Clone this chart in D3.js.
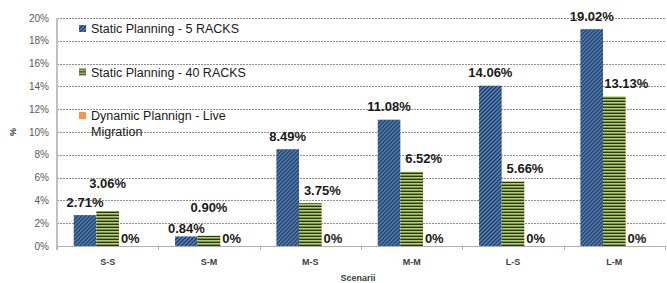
<!DOCTYPE html>
<html>
<head>
<meta charset="utf-8">
<script src="https://cdn.jsdelivr.net/npm/d3@7"></script>
<style>
  body { margin: 0; background: #fff; }
  svg { display: block; font-family: "Liberation Sans", Arial, sans-serif; }
</style>
</head>
<body>
<div id="chart-container"></div>
<script>
var categories = ['S-S', 'S-M', 'M-S', 'M-M', 'L-S', 'L-M'];
var seriesNames = ['Static Planning - 5 RACKS', 'Static Planning - 40 RACKS', 'Dynamic Plannign - Live Migration'];
var static5 = [2.71, 0.84, 8.49, 11.08, 14.06, 19.02];
var static40 = [3.06, 0.90, 3.75, 6.52, 5.66, 13.13];
var dynamicLive = [0, 0, 0, 0, 0, 0];
var yTicks = [0, 2, 4, 6, 8, 10, 12, 14, 16, 18, 20];

var seriesValues = [static5, static40, dynamicLive];

var margins = { top: 18, bottom: 37, left: 57, right: 2 };
var width = 667, height = 283;

var svg = d3.select('#chart-container')
    .append('svg')
        .attr('width', width)
        .attr('height', height);

// patterns for the bars
var defs = svg.append('defs');
var pBlue = defs.append('pattern')
    .attr('id', 'pat-blue')
    .attr('patternUnits', 'userSpaceOnUse')
    .attr('width', 4).attr('height', 4);
pBlue.append('rect').attr('width', 4).attr('height', 4).attr('fill', '#4f81bd');
pBlue.append('path')
    .attr('d', 'M-1,1 l2,-2 M0,4 l4,-4 M3,5 l2,-2')
    .attr('stroke', '#1c2c45').attr('stroke-width', 1.1);

var pGreen = defs.append('pattern')
    .attr('id', 'pat-green')
    .attr('patternUnits', 'userSpaceOnUse')
    .attr('width', 4).attr('height', 3);
pGreen.append('rect').attr('width', 4).attr('height', 3).attr('fill', '#b2d165');
pGreen.append('rect').attr('y', 1.6).attr('width', 4).attr('height', 1.4).attr('fill', '#2b3519');

var fills = ['url(#pat-blue)', 'url(#pat-green)', '#f79646'];

var y = d3.scaleLinear()
    .domain([0, 20])
    .range([height - margins.bottom, margins.top]);

var x0 = d3.scaleBand()
    .domain(categories)
    .range([margins.left, width - margins.right])
    .paddingInner(0.33)
    .paddingOuter(0.165);

var x1 = d3.scaleBand()
    .domain(d3.range(seriesNames.length))
    .range([0, x0.bandwidth()]);

// gridlines
svg.append('g')
    .selectAll('line')
    .data(yTicks.filter(function (d) { return d > 0; }))
    .join('line')
        .attr('x1', margins.left)
        .attr('x2', width - margins.right)
        .attr('y1', function (d) { return Math.round(y(d)) + 0.5; })
        .attr('y2', function (d) { return Math.round(y(d)) + 0.5; })
        .attr('stroke', '#8c8c8c')
        .attr('stroke-dasharray', '2,1');

// y axis labels
svg.append('g')
    .selectAll('text')
    .data(yTicks)
    .join('text')
        .attr('x', margins.left - 8)
        .attr('y', function (d) { return y(d); })
        .attr('dy', '0.35em')
        .attr('text-anchor', 'end')
        .attr('fill', '#595959')
        .attr('font-size', 10)
        .text(function (d) { return d + '%'; });

svg.append('text')
    .attr('transform', 'translate(16,' + y(10) + ') rotate(-90)')
    .attr('text-anchor', 'middle')
    .attr('font-size', 9)
    .attr('font-weight', 'bold')
    .attr('fill', '#404040')
    .text('%');

// bars
var groups = svg.append('g')
    .selectAll('g')
    .data(categories)
    .join('g')
        .attr('transform', function (d) { return 'translate(' + x0(d) + ',0)'; });

groups.selectAll('rect')
    .data(function (d, i) {
        return seriesValues.map(function (s, k) { return { k: k, v: s[i] }; });
    })
    .join('rect')
        .attr('x', function (d) { return x1(d.k); })
        .attr('width', x1.bandwidth())
        .attr('y', function (d) { return y(d.v); })
        .attr('height', function (d) { return y(0) - y(d.v); })
        .attr('fill', function (d) { return fills[d.k]; });

// value labels, nudged like the original
groups.each(function (c, i) {
    var g = d3.select(this);
    var pos = seriesValues.map(function (s, k) {
        var v = s[i];
        return { k: k, v: v, y: v === 0 ? y(v) - 8 : y(v) - 13, dx: 0 };
    });
    if (Math.abs(pos[0].y - pos[1].y) < 15) {
        pos[1].y = Math.min(pos[0].y, pos[1].y) - 15;
        if (pos[0].v < 2) pos[0].y += 5;
    } else {
        pos[1].dx = 12;
    }
    g.selectAll('text')
        .data(pos)
        .join('text')
            .attr('x', function (d) { return x1(d.k) + x1.bandwidth() / 2 + d.dx; })
            .attr('y', function (d) { return d.y; })
            .attr('dy', '0.35em')
            .attr('text-anchor', 'middle')
            .attr('font-size', 13)
            .attr('font-weight', 'bold')
            .attr('fill', '#1a1a1a')
            .text(function (d) { return d.v === 0 ? '0%' : d.v.toFixed(2) + '%'; });
});

// axes lines
svg.append('line')
    .attr('x1', margins.left).attr('x2', margins.left)
    .attr('y1', margins.top).attr('y2', y(0) + 4)
    .attr('stroke', '#c0c0c0').attr('stroke-width', 2);

svg.append('line')
    .attr('x1', margins.left).attr('x2', width - margins.right)
    .attr('y1', y(0) + 0.5).attr('y2', y(0) + 0.5)
    .attr('stroke', '#b0b0b0');

var step = x0.step();
svg.append('g')
    .selectAll('line')
    .data(d3.range(categories.length + 1))
    .join('line')
        .attr('x1', function (d) { return Math.round(margins.left + d * step) + 0.5; })
        .attr('x2', function (d) { return Math.round(margins.left + d * step) + 0.5; })
        .attr('y1', y(0))
        .attr('y2', y(0) + 4)
        .attr('stroke', '#b0b0b0');

// category labels
svg.append('g')
    .selectAll('text')
    .data(categories)
    .join('text')
        .attr('x', function (d) { return x0(d) + x0.bandwidth() / 2; })
        .attr('y', 265)
        .attr('text-anchor', 'middle')
        .attr('font-size', 9)
        .attr('font-weight', 'bold')
        .attr('fill', '#404040')
        .text(function (d) { return d; });

svg.append('text')
    .attr('x', 358)
    .attr('y', 281)
    .attr('text-anchor', 'middle')
    .attr('font-size', 9)
    .attr('font-weight', 'bold')
    .attr('fill', '#404040')
    .text('Scenarii');

// legend
var legend = svg.append('g')
    .selectAll('g')
    .data(seriesNames)
    .join('g')
        .attr('transform', function (d, i) { return 'translate(79,' + (29 + i * 43.5) + ')'; });

legend.append('rect')
    .attr('x', 0).attr('y', -4)
    .attr('width', 7).attr('height', 7)
    .attr('fill', function (d, i) { return fills[i]; });

legend.append('text')
    .attr('x', 12)
    .attr('font-size', 12.5)
    .attr('fill', '#1a1a1a')
    .each(function (d) {
        var t = d3.select(this);
        var parts = d === 'Dynamic Plannign - Live Migration'
            ? ['Dynamic Plannign - Live', 'Migration'] : [d];
        parts.forEach(function (p, j) {
            t.append('tspan')
                .attr('x', 12)
                .attr('y', j * 16)
                .attr('dy', '0.35em')
                .text(p);
        });
    });
</script>
</body>
</html>
